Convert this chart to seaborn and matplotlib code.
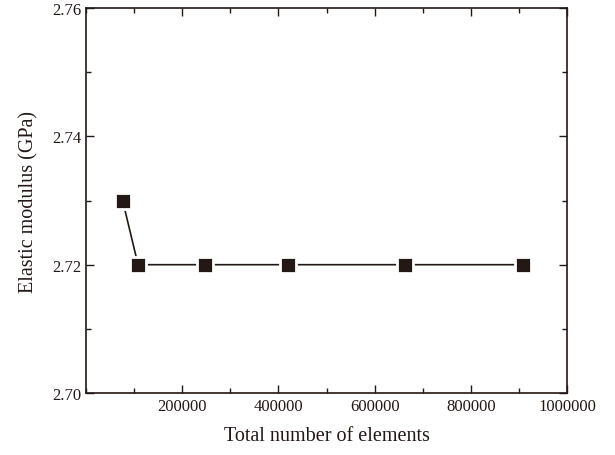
import matplotlib
matplotlib.use("Agg")
import matplotlib.pyplot as plt
import seaborn as sns
import pandas as pd
from matplotlib.ticker import MultipleLocator

# DATA
total_elements = [76000, 108000, 247000, 420000, 664000, 909000]
elastic_modulus = [2.73, 2.72, 2.72, 2.72, 2.72, 2.72]

x_ticks = [200000, 400000, 600000, 800000, 1000000]
y_ticks = [2.70, 2.72, 2.74, 2.76]

df = pd.DataFrame({"elements": total_elements, "modulus": elastic_modulus})

# STYLE
sns.set_style("ticks")
plt.rcParams['font.family'] = ['Liberation Serif', 'DejaVu Serif']

ink = "#231815"

fig = plt.figure(figsize=(6.15, 4.56), dpi=100)
ax = fig.add_axes([0.140, 0.136, 0.782, 0.844])

# white marker edge leaves a small gap where the line meets each square
sns.lineplot(
    data=df,
    x="elements",
    y="modulus",
    marker="s",
    markersize=11,
    markeredgecolor="white",
    markeredgewidth=2,
    markerfacecolor=ink,
    color=ink,
    linewidth=1.2,
    ax=ax
)

# AXES
ax.set_xlim(0, 1000000)
ax.set_ylim(2.70, 2.76)
ax.set_xticks(x_ticks)
ax.set_xticklabels([str(t) for t in x_ticks])
ax.set_yticks(y_ticks)
ax.set_yticklabels([f"{t:.2f}" for t in y_ticks])
ax.xaxis.set_minor_locator(MultipleLocator(100000))
ax.yaxis.set_minor_locator(MultipleLocator(0.01))

ax.tick_params(which="both", direction="in", top=True, right=True,
               colors=ink, labelsize=12, width=1.0)
ax.tick_params(which="major", length=6)
ax.tick_params(which="minor", length=3.5)

for side in ["left", "right", "top", "bottom"]:
    ax.spines[side].set_visible(True)
    ax.spines[side].set_linewidth(1.2)
    ax.spines[side].set_color(ink)

ax.set_xlabel("Total number of elements", fontsize=14.5, color=ink, labelpad=9)
ax.set_ylabel("Elastic modulus (GPa)", fontsize=14.5, color=ink, labelpad=10)

fig.savefig("out.png", dpi=100)
plt.close(fig)
